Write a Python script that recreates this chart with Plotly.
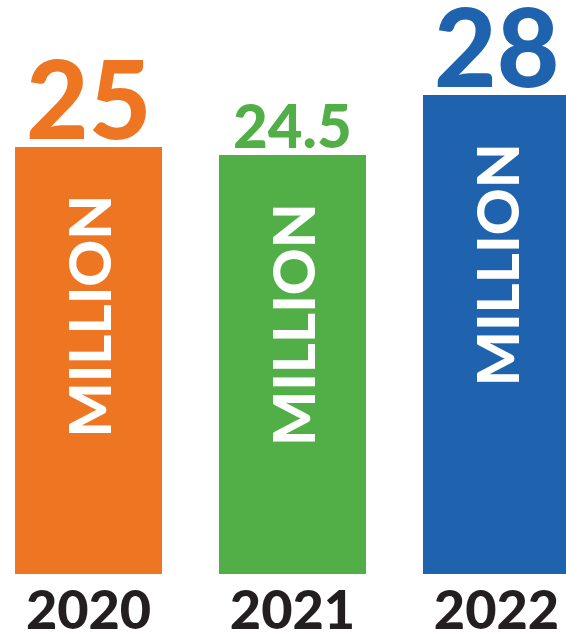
import plotly.graph_objects as go

years = ["2020", "2021", "2022"]
values = [25, 24.5, 28]
value_labels = ["25", "24.5", "28"]
unit_label = "MILLION"
colors = ["#EE7623", "#52AE47", "#1F62AE"]
label_sizes = [108, 60, 108]

FONT = "Lato, 'Open Sans', sans-serif"

fig = go.Figure()

fig.add_trace(go.Bar(
    x=years, y=values,
    marker=dict(color=colors, line=dict(width=0)),
    width=0.72,
    hoverinfo="skip",
))

# --- value labels above bars + rotated unit label inside ---
for i, (v, txt, c, s) in enumerate(zip(values, value_labels, colors, label_sizes)):
    fig.add_annotation(x=i, y=v, xref="x", yref="y", text=txt, showarrow=False,
                       xanchor="center", yanchor="bottom", yshift=-17 if s > 80 else -8,
                       font=dict(family=FONT, size=s, color=c, weight=900))
    fig.add_annotation(x=i, y=v, xref="x", yref="y", text=unit_label, showarrow=False,
                       textangle=-90, xanchor="center", yanchor="top", yshift=-46,
                       font=dict(family=FONT, size=58, color="white", weight=900))

fig.update_layout(
    width=566, height=636,
    paper_bgcolor="white", plot_bgcolor="white",
    margin=dict(l=0, r=0, t=0, b=62),
    showlegend=False,
    bargap=0,
)
fig.update_xaxes(type="category", range=[-0.434, 2.341], showgrid=False, zeroline=False,
                 showline=False, ticks="", automargin=False, ticklabelstandoff=0,
                 tickfont=dict(family=FONT, size=54, color="#231F20", weight=900))
fig.update_yaxes(range=[0, 33.57], visible=False, automargin=False)

fig.write_html("out.html", config={"displayModeBar": False},
               post_script="document.body.style.margin='0';")
